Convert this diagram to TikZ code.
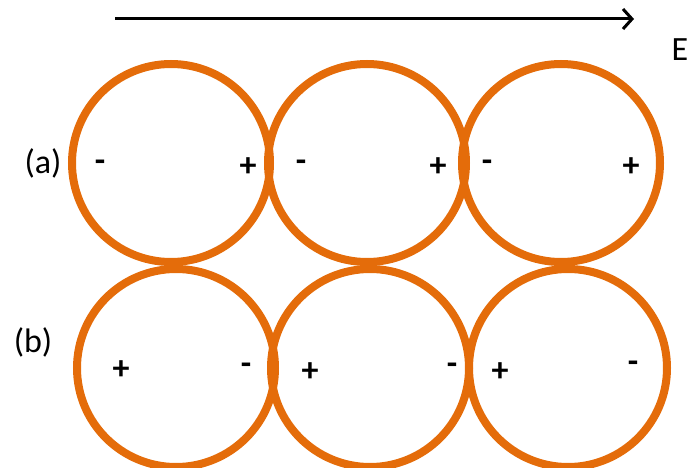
\documentclass[tikz,border=0pt]{standalone}
\usepackage{fontspec}
\setmainfont{Carlito}
\usetikzlibrary{arrows.meta}
\definecolor{ringorange}{HTML}{E46C0A}
\begin{document}
\begin{tikzpicture}[x=1pt,y=-1pt,
  ring/.style={draw=ringorange,line width=8pt,circle,minimum size=198pt,inner sep=0pt},
  sign/.style={font=\fontsize{34}{36}\selectfont\bfseries,inner sep=0pt},
  lbl/.style={font=\fontsize{34}{38}\selectfont,inner sep=0pt}]
\useasboundingbox (0,0) rectangle (691,468);
\coordinate (es) at (115,19);
\coordinate (ee) at (634,19);
\draw[line width=3pt,-{Straight Barb[length=9pt,width=20pt,line width=3pt]}] (es) -- (ee);
\node[lbl] (E) at (680,50) {E};
% row a
\node[ring] (a1) at (171,163) {};
\node[ring] (a2) at (367,163) {};
\node[ring] (a3) at (561,163) {};
\node[lbl] (la) at (43,163) {(a)};
\node[sign] (a1m) at (100,166) {-};
\node[sign] (a1p) at (248,167) {+};
\node[sign] (a2m) at (301,166) {-};
\node[sign] (a2p) at (438,167) {+};
\node[sign] (a3m) at (487,166) {-};
\node[sign] (a3p) at (631,167) {+};
% row b
\node[ring] (b1) at (176,368) {};
\node[ring] (b2) at (370,368) {};
\node[ring] (b3) at (568,368) {};
\node[lbl] (lb) at (33,342) {(b)};
\node[sign] (b1p) at (121,370) {+};
\node[sign] (b1m) at (246,369) {-};
\node[sign] (b2p) at (310,372) {+};
\node[sign] (b2m) at (452,369) {-};
\node[sign] (b3p) at (500,372) {+};
\node[sign] (b3m) at (633,367) {-};
\end{tikzpicture}
\end{document}
